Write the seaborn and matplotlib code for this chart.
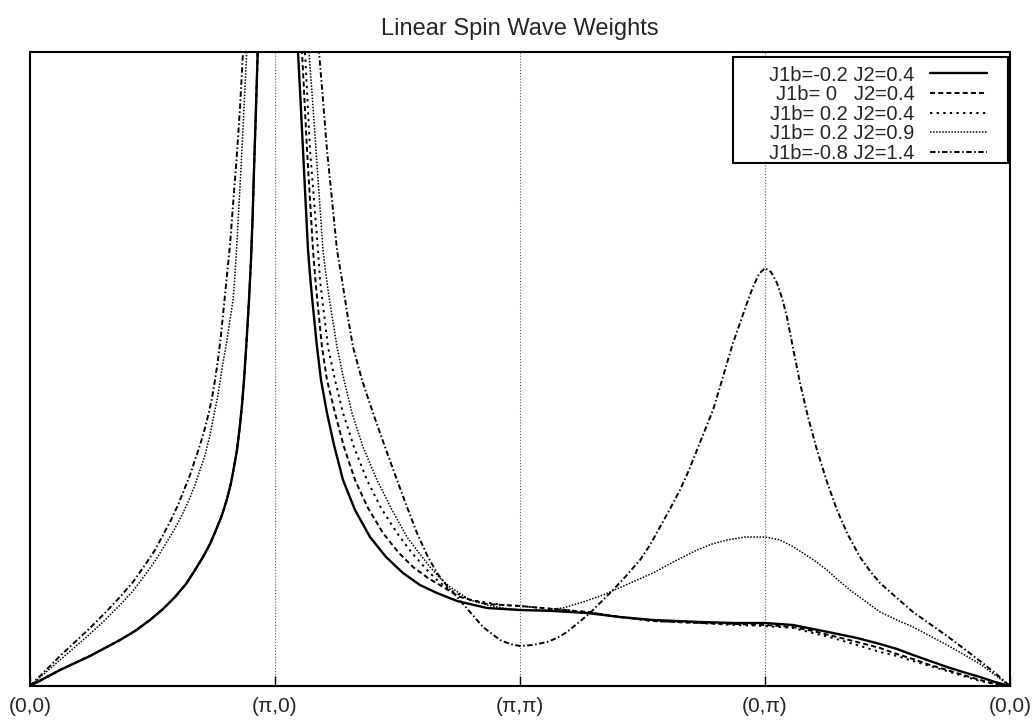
import seaborn as sns
import pandas as pd
import matplotlib.pyplot as plt
from matplotlib.patches import Rectangle

# path through the zone: (0,0) -> (pi,0) -> (pi,pi) -> (0,pi) -> (0,0)
tick_pos = [0, 1, 2, 3, 4]
tick_labels = ['(0,0)', '(π,0)', '(π,π)', '(0,π)', '(0,0)']

labels = ['J1b=-0.2 J2=0.4', 'J1b= 0   J2=0.4', 'J1b= 0.2 J2=0.4',
          'J1b= 0.2 J2=0.9', 'J1b=-0.8 J2=1.4']

# weights; every curve diverges at (pi,0)
# left branch, before the pole
a_xl = [0, 0.0612, 0.1224, 0.1837, 0.2449, 0.3061, 0.3673, 0.4286, 0.4898, 0.5429,
        0.5918, 0.6367, 0.6735, 0.7061, 0.7347, 0.7592, 0.7837, 0.8041, 0.8204, 0.8327,
        0.8449, 0.8571, 0.8653, 0.8735, 0.8816, 0.8878, 0.8939, 0.902, 0.9082, 0.9143,
        0.9224, 0.9294, 0.9355]
a_yl = [0, 0.08, 0.16, 0.23, 0.30, 0.38, 0.46, 0.55, 0.66, 0.77,
        0.89, 1.02, 1.16, 1.29, 1.42, 1.56, 1.71, 1.87, 2.03, 2.19,
        2.36, 2.61, 2.81, 3.06, 3.36, 3.61, 3.86, 4.26, 4.66, 5.16,
        5.78, 6.34, 6.86]
# the J2=0.4 curves lie on top of each other left of the pole
b_xl = list(a_xl)
b_yl = list(a_yl)
c_xl = list(a_xl)
c_yl = list(a_yl)
d_xl = [0, 0.0612, 0.1224, 0.1837, 0.2449, 0.3061, 0.3673, 0.4204, 0.4694, 0.5102,
        0.551, 0.5878, 0.6204, 0.649, 0.6735, 0.6939, 0.7143, 0.7347, 0.751, 0.7673,
        0.7796, 0.7918, 0.8041, 0.8163, 0.8286, 0.8367, 0.8429, 0.8531, 0.8633, 0.8735,
        0.8845, 0.8959]
d_yl = [0, 0.13, 0.26, 0.39, 0.52, 0.66, 0.81, 0.95, 1.11, 1.25,
        1.41, 1.56, 1.71, 1.86, 2.01, 2.16, 2.31, 2.51, 2.71, 2.91,
        3.11, 3.29, 3.46, 3.66, 3.86, 4.11, 4.36, 4.81, 5.28, 5.78,
        6.34, 6.86]
e_xl = [0, 0.0612, 0.1224, 0.1837, 0.2449, 0.3061, 0.3673, 0.4204, 0.4694, 0.5102,
        0.5429, 0.5755, 0.6041, 0.6286, 0.6531, 0.6735, 0.6939, 0.7143, 0.7306, 0.7429,
        0.7551, 0.7673, 0.7796, 0.7918, 0.8041, 0.8163, 0.8286, 0.8429, 0.8571, 0.8694,
        0.8816]
e_yl = [0, 0.15, 0.30, 0.44, 0.58, 0.73, 0.89, 1.04, 1.21, 1.36,
        1.51, 1.66, 1.81, 1.96, 2.11, 2.26, 2.41, 2.58, 2.74, 2.88,
        3.06, 3.26, 3.51, 3.81, 4.11, 4.41, 4.81, 5.26, 5.78, 6.34,
        6.86]

# right branch, after the pole to the end of the path
tail_x = [2.1347, 2.2735, 2.4082, 2.5429, 2.7347, 2.8776, 3.0,
          3.1143, 3.1959, 3.2776, 3.3755, 3.4694, 3.5388, 3.6041, 3.6735, 3.7429, 3.8082,
          3.8776, 3.9388, 4.0]
a_xr = [1.0829, 1.0939, 1.1041, 1.1143, 1.1245, 1.1347, 1.1429, 1.151, 1.1612, 1.1714,
        1.1878, 1.2122, 1.2408, 1.2776, 1.3265, 1.3878, 1.4531, 1.5224, 1.5918, 1.6612,
        1.7429, 1.8653, 2.0] + tail_x
a_yr = [6.86, 6.34, 5.86, 5.36, 4.86, 4.36, 4.11, 3.89, 3.64, 3.39,
        3.06, 2.73, 2.41, 2.06, 1.76, 1.49, 1.29, 1.13, 1.01, 0.93,
        0.85, 0.78, 0.76,
        0.75, 0.73, 0.69, 0.66, 0.64, 0.63, 0.63,
        0.61, 0.57, 0.53, 0.48, 0.42, 0.37, 0.31, 0.25, 0.19, 0.14,
        0.09, 0.04, 0]
b_xr = [1.098, 1.1102, 1.1204, 1.1306, 1.1429, 1.1551, 1.1633, 1.1714, 1.1816, 1.1918,
        1.2122, 1.2449, 1.2816, 1.3265, 1.3796, 1.4408, 1.502, 1.5633, 1.6245, 1.6857,
        1.7551, 1.8653, 2.0] + tail_x
b_yr = [6.86, 6.34, 5.86, 5.36, 4.86, 4.36, 4.11, 3.89, 3.64, 3.39,
        3.06, 2.73, 2.39, 2.06, 1.78, 1.53, 1.34, 1.19, 1.08, 0.99,
        0.89, 0.82, 0.80,
        0.77, 0.74, 0.69, 0.65, 0.63, 0.62, 0.61,
        0.59, 0.55, 0.50, 0.44, 0.38, 0.32, 0.27, 0.21, 0.16, 0.11,
        0.06, 0.02, 0]
c_xr = [1.1143, 1.1224, 1.1327, 1.1429, 1.1592, 1.1755, 1.1837, 1.1918, 1.2041, 1.2163,
        1.2449, 1.2776, 1.3224, 1.3755, 1.4327, 1.498, 1.5592, 1.6204, 1.6653, 1.7143,
        1.7959, 1.9306, 2.0] + tail_x
c_yr = [6.86, 6.34, 5.86, 5.36, 4.86, 4.36, 4.06, 3.89, 3.64, 3.39,
        3.06, 2.73, 2.39, 2.06, 1.78, 1.53, 1.33, 1.16, 1.05, 0.96,
        0.86, 0.81, 0.80,
        0.77, 0.74, 0.69, 0.65, 0.63, 0.61, 0.60,
        0.58, 0.53, 0.48, 0.41, 0.34, 0.30, 0.25, 0.20, 0.15, 0.10,
        0.05, 0.02, 0]
d_xr = [1.1306, 1.1388, 1.1531, 1.1673, 1.1816, 1.1959, 1.2082, 1.2204, 1.2367, 1.2531,
        1.2816, 1.3143, 1.3592, 1.4163, 1.4776, 1.5388, 1.5878, 1.6327, 1.6735, 1.7143,
        1.7959, 1.8653, 1.9306, 2.0,
        2.0939, 2.1755, 2.2571, 2.3388, 2.4408, 2.5429, 2.6327, 2.7224, 2.7837, 2.8449,
        2.9184, 3.0,
        3.0612, 3.1102, 3.1551, 3.2041, 3.2531, 3.298, 3.3469, 3.4082, 3.4694, 3.5388,
        3.6041, 3.6735, 3.7429, 3.8082, 3.8776, 3.9388, 4.0]
d_yr = [6.86, 6.34, 5.86, 5.36, 4.86, 4.36, 4.11, 3.89, 3.64, 3.39,
        3.06, 2.73, 2.39, 2.06, 1.76, 1.49, 1.33, 1.19, 1.08, 0.99,
        0.86, 0.81, 0.78, 0.76,
        0.76, 0.78, 0.84, 0.91, 1.02, 1.13, 1.25, 1.36, 1.42, 1.46,
        1.49, 1.49,
        1.46, 1.40, 1.33, 1.25, 1.16, 1.06, 0.96, 0.85, 0.74, 0.66,
        0.59, 0.50, 0.41, 0.32, 0.22, 0.11, 0]
e_xr = [1.1714, 1.1796, 1.1959, 1.2122, 1.2327, 1.2531, 1.2735, 1.2939, 1.3184, 1.3551,
        1.4, 1.449, 1.498, 1.5388, 1.5796, 1.6204, 1.6612, 1.702, 1.7429, 1.7959,
        1.849, 1.9184, 1.9592, 2.0,
        2.0531, 2.1102, 2.151, 2.1918, 2.2367, 2.2857, 2.3306, 2.3796, 2.4327, 2.4898,
        2.5306, 2.5714, 2.6122, 2.6531, 2.6898, 2.7224, 2.7551, 2.7878, 2.8163, 2.8449,
        2.8694, 2.898, 2.9265, 2.951, 2.9755, 3.0,
        3.0245, 3.049, 3.0694, 3.0898, 3.1143, 3.1429, 3.1755, 3.2122, 3.2531, 3.2939,
        3.3388, 3.3878, 3.4286, 3.4694, 3.5388, 3.6041, 3.6735, 3.7429, 3.8082, 3.8776,
        3.9388, 4.0]
e_yr = [6.86, 6.34, 5.86, 5.36, 4.86, 4.36, 4.06, 3.74, 3.39, 3.06,
        2.73, 2.39, 2.06, 1.79, 1.53, 1.31, 1.13, 1.00, 0.89, 0.74,
        0.59, 0.46, 0.42, 0.40,
        0.41, 0.44, 0.48, 0.54, 0.63, 0.73, 0.84, 0.96, 1.10, 1.26,
        1.41, 1.59, 1.77, 1.96, 2.16, 2.36, 2.56, 2.76, 2.99, 3.23,
        3.43, 3.63, 3.83, 3.99, 4.12, 4.18,
        4.14, 4.03, 3.88, 3.69, 3.38, 3.03, 2.69, 2.36, 2.04, 1.76,
        1.51, 1.29, 1.15, 1.03, 0.88, 0.74, 0.62, 0.50, 0.38, 0.25,
        0.13, 0]

branches = [
    (a_xl, a_yl, a_xr, a_yr),
    (b_xl, b_yl, b_xr, b_yr),
    (c_xl, c_yl, c_xr, c_yr),
    (d_xl, d_yl, d_xr, d_yr),
    (e_xl, e_yl, e_xr, e_yr),
]
styles = [
    dict(linestyle='-', linewidth=1.7),
    dict(linestyle=(0, (2.6, 1.6)), linewidth=1.4),
    dict(linestyle=(0, (1.2, 2.2)), linewidth=1.4),
    dict(linestyle=(0, (1, 1)), linewidth=1.1),
    dict(linestyle=(0, (2.8, 1.3, 0.8, 1.3)), linewidth=1.4),
]

sns.set_theme(style='white')
plt.rcParams['font.family'] = ['Liberation Sans', 'DejaVu Sans']

fig = plt.figure(figsize=(10.33, 7.21), dpi=100)
ax = fig.add_axes([30 / 1033, 1 - 686 / 721, 980 / 1033, 634 / 721])

# dotted verticals at the symmetry points
for xv in [1, 2, 3]:
    ax.axvline(xv, color='0.35', linestyle=(0, (1, 1.6)), linewidth=0.8, zorder=0)

handles = []
for (xl, yl, xr, yr), lab, st in zip(branches, labels, styles):
    sns.lineplot(x=xl, y=yl, ax=ax, color='black', sort=False, estimator=None, **st)
    handles.append(ax.lines[-1])
    sns.lineplot(x=xr, y=yr, ax=ax, color='black', sort=False, estimator=None, **st)

ax.set_xlim(0, 4)
ax.set_ylim(0, 6.34)
ax.set_xticks(tick_pos)
ax.set_xticklabels(tick_labels)
ax.set_yticks([])
ax.set_xlabel('')
ax.set_ylabel('')
ax.tick_params(axis='x', direction='in', length=7, width=1, color='black',
               pad=8, labelsize=15, bottom=True)
for sp in ax.spines.values():
    sp.set_color('black')
    sp.set_linewidth(1.5)

# gnuplot-like key: box drawn separately, text right-aligned before the sample
ax.add_patch(Rectangle((0.7173, 0.8249), 0.2807, 0.1672, transform=ax.transAxes,
                       facecolor='white', edgecolor='black', linewidth=1.5,
                       zorder=4, clip_on=False))
leg = ax.legend(handles, labels, loc='upper right', bbox_to_anchor=(0.9765, 0.9787),
                markerfirst=False, fontsize=14.5, frameon=False, borderaxespad=0,
                borderpad=0, labelspacing=0.03, handlelength=2.84,
                handletextpad=0.75)
leg.set_zorder(5)

fig.text(520 / 1033, 1 - 29 / 721, 'Linear Spin Wave Weights', ha='center',
         va='center', fontsize=17)

fig.savefig('out.png', dpi=100)
